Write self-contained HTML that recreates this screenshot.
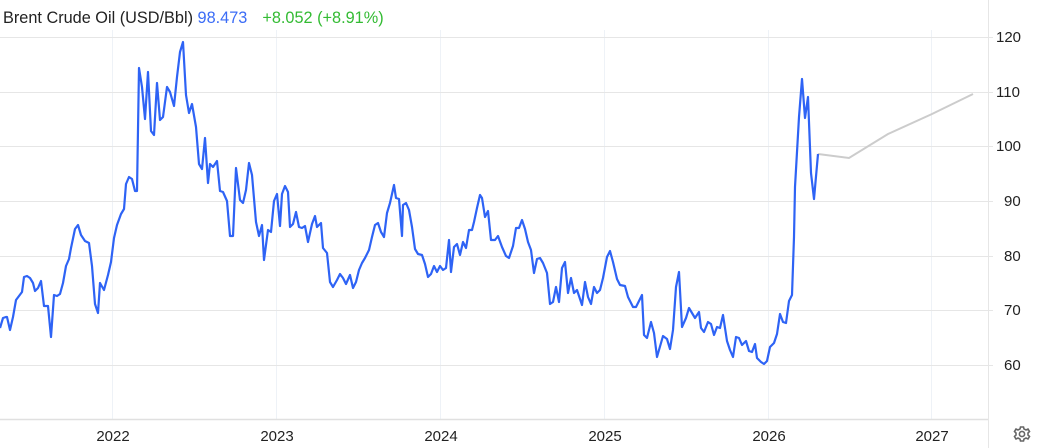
<!DOCTYPE html>
<html><head><meta charset="utf-8"><style>
html,body{margin:0;padding:0;background:#fff;width:1046px;height:448px;overflow:hidden}
svg{display:block;font-family:"Liberation Sans",Arial,sans-serif}
</style></head><body>
<svg width="1046" height="448" viewBox="0 0 1046 448" xmlns="http://www.w3.org/2000/svg">
<g stroke="#eef2f7" stroke-width="1">
<line x1="112.5" y1="30" x2="112.5" y2="420"/><line x1="276.5" y1="30" x2="276.5" y2="420"/><line x1="440.5" y1="30" x2="440.5" y2="420"/><line x1="604.5" y1="30" x2="604.5" y2="420"/><line x1="768.5" y1="30" x2="768.5" y2="420"/><line x1="931.5" y1="30" x2="931.5" y2="420"/>
</g>
<g stroke="#e6e6e6" stroke-width="1">
<line x1="0" y1="37.5" x2="993" y2="37.5"/><line x1="0" y1="92.5" x2="993" y2="92.5"/><line x1="0" y1="146.5" x2="993" y2="146.5"/><line x1="0" y1="201.5" x2="993" y2="201.5"/><line x1="0" y1="256.5" x2="993" y2="256.5"/><line x1="0" y1="310.5" x2="993" y2="310.5"/><line x1="0" y1="365.5" x2="993" y2="365.5"/>
<line x1="0" y1="419.5" x2="988" y2="419.5" stroke="#e0e0e0" stroke-width="1.5"/>
<line x1="988.5" y1="0" x2="988.5" y2="448"/>
</g>
<polyline fill="none" stroke="#cccccc" stroke-width="2" points="818,154 849,158 888,134 932,114 973,94"/>
<polyline fill="none" stroke="#2e63f5" stroke-width="2.2" stroke-linejoin="round" points="0,328 3,318 6,317 7,317 10,330 13,317 16,300 22,292 24,277 27,276 30,278 33,283 35,291 38,288 41,281 44,306 48,306 51,337 54,295 57,296 60,294 63,283 66,266 69,259 71,248 75,229 78,225 81,235 85,241 89,243 92,266 95,304 98,313 100,283 104,290 108,275 111,262 114,238 117,225 121,214 124,209 126,184 129,177 132,179 135,191 137,191 139,68 142,87 145,119 148,72 151,131 154,135 157,83 160,120 163,117 167,87 170,92 174,106 177,77 180,52 183,42 186,95 189,113 192,104 196,127 199,164 202,169 205,138 208,183 210,164 213,167 217,161 220,191 223,192 227,201 230,236 233,236 236,168 240,200 243,203 246,190 249,163 252,175 256,222 259,236 262,225 264,260 268,230 271,232 274,201 277,194 280,226 282,194 285,186 288,192 290,227 293,224 296,212 299,227 302,228 305,226 308,242 312,224 315,216 317,227 321,223 323,248 327,253 330,282 333,287 337,280 340,274 343,278 346,284 350,275 353,288 356,282 359,270 362,263 365,258 368,252 369,250 372,237 375,225 378,223 381,232 384,237 387,213 390,203 394,185 396,198 399,199 402,236 403,205 406,203 409,210 412,227 415,249 418,254 422,255 425,264 428,277 431,274 434,266 437,272 440,266 443,270 446,268 449,240 451,272 454,247 457,244 460,255 463,242 466,248 469,230 472,230 474,222 477,208 480,195 482,198 485,217 488,211 491,240 495,240 498,236 502,247 506,256 509,258 513,246 516,228 519,228 522,220 525,229 528,242 531,250 534,273 537,259 540,258 543,263 547,273 550,304 553,302 556,287 559,302 562,268 565,262 568,293 571,278 574,293 577,290 582,305 585,282 588,297 591,304 594,287 597,293 600,290 603,278 607,257 610,251 613,262 617,279 620,285 625,286 628,297 633,307 636,307 642,295 644,335 647,338 651,322 654,333 657,357 661,343 663,336 667,339 670,349 673,330 676,287 679,272 682,327 686,318 689,308 692,313 695,318 699,312 701,328 704,332 708,322 711,324 714,335 717,327 720,328 723,315 727,341 730,350 733,357 736,337 739,338 742,345 746,341 749,351 752,352 755,344 757,358 761,362 764,364 767,361 770,347 774,343 777,334 780,314 783,322 786,323 789,301 792,295 794,237 795,187 799,117 802,79 805,118 808,97 811,173 814,199 818,154"/>
<g font-size="15" fill="#222">
<text x="996" y="42">120</text><text x="996" y="97">110</text><text x="996" y="151">100</text><text x="1004" y="206">90</text><text x="1004" y="261">80</text><text x="1004" y="315">70</text><text x="1004" y="370">60</text>
</g>
<g font-size="15" fill="#222" text-anchor="middle">
<text x="113" y="441">2022</text><text x="277" y="441">2023</text><text x="441" y="441">2024</text><text x="605" y="441">2025</text><text x="769" y="441">2026</text><text x="932" y="441">2027</text>
</g>
<text x="3" y="23" font-size="16.3" fill="#222">Brent Crude Oil (USD/Bbl) <tspan fill="#3b6cf6">98.473</tspan><tspan fill="#33bb33" dx="15">+8.052 (+8.91%)</tspan></text>
<g transform="translate(1022,434)" fill="none" stroke="#666" stroke-width="1.6">
<circle r="2.6"/>
<path d="M-1.5,-7 L1.5,-7 L2,-5 L4,-4 L6,-5 L7.5,-2.5 L6,-1 L6,1 L7.5,2.5 L6,5 L4,4 L2,5 L1.5,7 L-1.5,7 L-2,5 L-4,4 L-6,5 L-7.5,2.5 L-6,1 L-6,-1 L-7.5,-2.5 L-6,-5 L-4,-4 L-2,-5 Z"/>
</g>
</svg>
</body></html>
